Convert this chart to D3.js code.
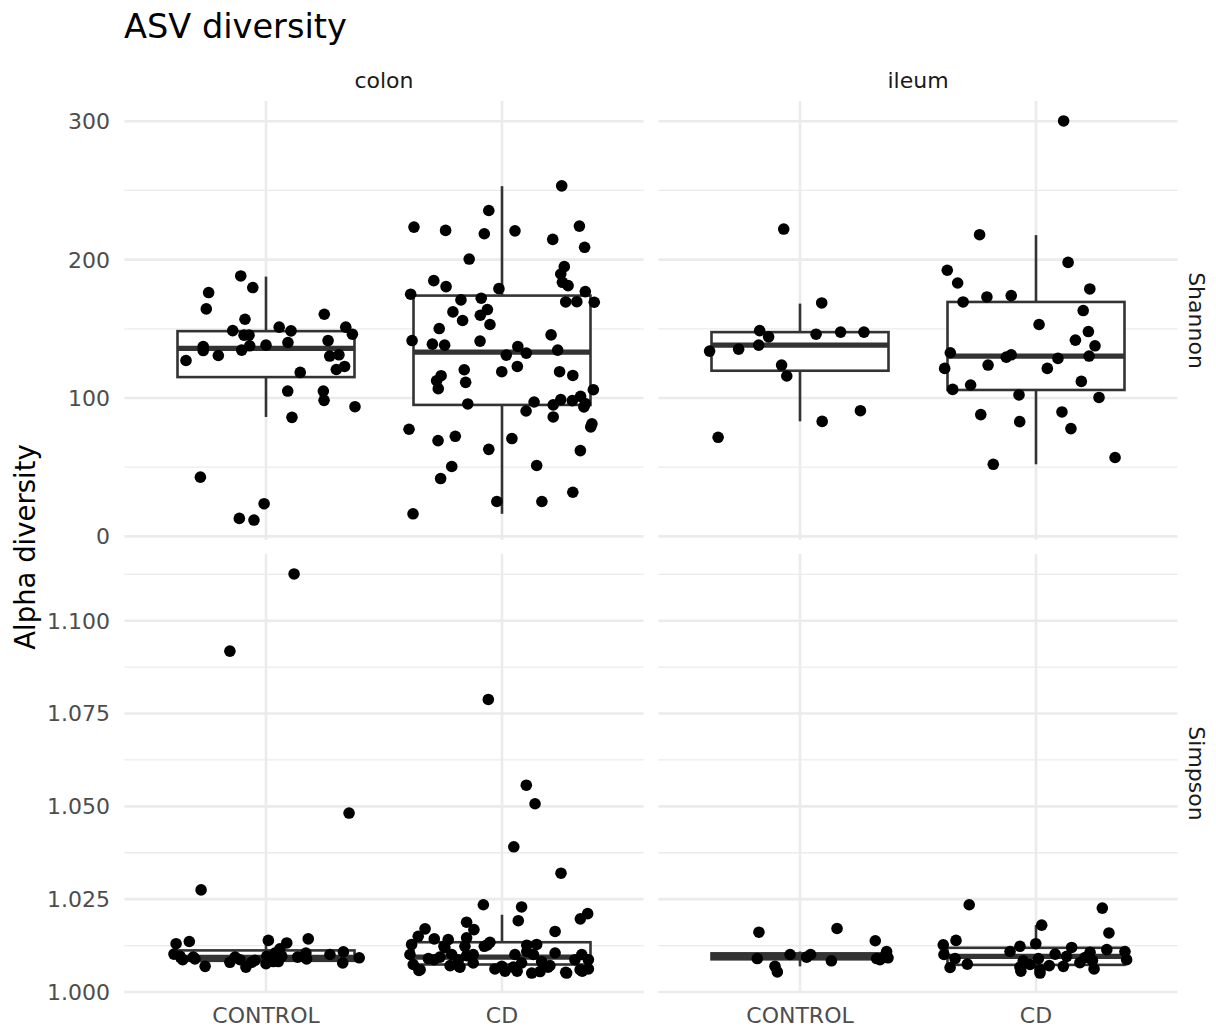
<!DOCTYPE html>
<html>
<head>
<meta charset="utf-8">
<script src="https://cdn.jsdelivr.net/npm/d3@7"></script>
<style>
  body { margin: 0; background: #fff; }
  text { font-family: "DejaVu Sans", sans-serif; }
</style>
</head>
<body>
<script>
// facets, measures and groups
const sites = ["colon", "ileum"];
const measures = ["Shannon", "Simpson"];
const groups = ["CONTROL", "CD"];

// box stats per panel: [lower whisker, Q1, median, Q3, upper whisker]
const boxColonShannon = { CONTROL: [86.3, 115.1, 135.8, 148.3, 187.7], CD: [16.3, 95.0, 133.1, 174.0, 253.1] };
const boxIleumShannon = { CONTROL: [83.1, 119.7, 138.2, 147.6, 168.2], CD: [52.1, 105.8, 130.3, 169.4, 217.7] };
const boxColonSimpson = { CONTROL: [1.0067, 1.0084, 1.0093, 1.0112, 1.0143], CD: [1.0051, 1.0074, 1.0094, 1.0134, 1.0208] };
const boxIleumSimpson = { CONTROL: [1.0069, 1.0088, 1.0096, 1.0104, 1.0109], CD: [1.0051, 1.0073, 1.0096, 1.0119, 1.0180] };

// jittered samples: [jitter (in category steps), value]
const colonShannonControl = [
  [-0.107, 188.2], [-0.056, 179.8], [-0.243, 176.2], [-0.253, 164.4], [-0.089, 156.9], [0.247, 160.5],
  [-0.141, 148.7], [0.056, 151.2], [0.106, 148.5], [0.338, 151.2], [0.366, 146.1], [-0.093, 145.4],
  [-0.072, 145.4], [0.263, 141.5], [0.093, 140.1], [-0.266, 137.2], [-0.266, 134.3], [-0.069, 137.7],
  [0, 138.2], [-0.103, 134.6], [-0.202, 130.7], [-0.339, 127.1], [0.27, 130.3], [0.309, 131.2],
  [0.298, 120.6], [0.333, 122.8], [0.145, 118.5], [0.092, 105.0], [0.243, 105.0], [0.246, 98.3],
  [0.377, 93.7], [0.11, 86.0], [-0.278, 42.8], [-0.008, 23.6], [-0.113, 13.0], [-0.051, 11.8]
];
const colonShannonCD = [
  [0.253, 253.3], [-0.056, 235.5], [-0.373, 223.5], [-0.239, 221.1], [-0.075, 218.7], [0.055, 220.8],
  [0.328, 224.2], [0.215, 214.6], [0.35, 208.9], [-0.139, 200.4], [0.264, 194.9], [0.249, 189.6],
  [0.256, 183.6], [0.28, 181.2], [-0.289, 184.8], [-0.237, 180.5], [-0.013, 179.0], [-0.387, 175.0],
  [0.353, 176.9], [-0.174, 170.9], [-0.088, 172.1], [0.27, 169.4], [0.317, 169.6], [0.391, 169.2],
  [-0.208, 162.2], [-0.062, 163.9], [-0.092, 159.8], [-0.167, 156.0], [-0.051, 153.1], [-0.266, 150.2],
  [-0.381, 141.5], [-0.295, 138.9], [-0.243, 138.2], [-0.093, 141.1], [0.208, 145.6], [0.067, 137.2],
  [0.236, 134.6], [0.018, 131.0], [0.103, 132.4], [0.065, 122.8], [-0.001, 119.0], [0.244, 119.0],
  [0.3, 116.3], [-0.16, 120.4], [-0.154, 111.3], [-0.258, 116.1], [-0.277, 112.5], [-0.27, 106.7],
  [0.387, 106.0], [-0.145, 95.7], [0.136, 97.1], [0.102, 90.6], [0.217, 95.0], [0.249, 98.8],
  [0.298, 98.1], [0.333, 101.2], [0.353, 95.9], [0.347, 93.5], [0.217, 86.3], [-0.394, 77.4],
  [-0.271, 69.2], [-0.198, 72.3], [0.042, 70.7], [0.381, 81.3], [0.376, 79.1], [-0.056, 62.9],
  [0.332, 62.0], [-0.213, 50.5], [-0.26, 41.8], [0.147, 51.2], [0.3, 31.9], [-0.022, 25.2],
  [0.169, 25.2], [-0.377, 16.3]
];
const ileumShannonControl = [
  [-0.069, 222.1], [0.092, 168.7], [-0.171, 148.7], [-0.133, 144.2], [0.068, 146.1], [0.172, 147.6],
  [0.271, 147.6], [-0.175, 138.2], [-0.26, 135.3], [-0.383, 133.9], [-0.078, 123.8], [-0.056, 115.9],
  [0.094, 83.1], [0.256, 90.8], [-0.347, 71.6]
];
const ileumShannonCD = [
  [0.117, 300.2], [-0.239, 218.0], [0.136, 198.0], [-0.376, 192.3], [-0.332, 183.1], [0.228, 178.8],
  [-0.208, 173.0], [-0.105, 174.0], [-0.309, 169.4], [0.2, 163.2], [0.013, 153.1], [0.222, 148.0],
  [0.167, 141.8], [0.25, 137.7], [-0.363, 132.7], [-0.126, 129.5], [-0.105, 131.2], [0.093, 128.6],
  [0.225, 130.3], [-0.203, 123.8], [-0.387, 121.4], [0.048, 121.4], [0.192, 112.0], [-0.277, 109.4],
  [-0.353, 106.2], [-0.072, 102.2], [0.267, 100.4], [-0.234, 88.0], [0.11, 89.9], [-0.069, 82.9],
  [0.148, 77.9], [0.335, 57.0], [-0.181, 52.1]
];
const colonSimpsonControl = [
  [-0.381, 1.0130], [-0.325, 1.0136], [-0.39, 1.0102], [-0.364, 1.0096], [-0.353, 1.0087], [-0.308, 1.0094],
  [-0.301, 1.0089], [-0.258, 1.0069], [-0.153, 1.0080], [-0.131, 1.0094], [-0.11, 1.0087], [-0.085, 1.0067],
  [-0.061, 1.0080], [-0.047, 1.0085], [0, 1.0076], [0.003, 1.0096], [0.01, 1.0139], [0.031, 1.0082],
  [0.038, 1.0105], [0.059, 1.0116], [0.052, 1.0082], [0.088, 1.0132], [0.067, 1.0096], [0.134, 1.0094],
  [0.169, 1.0105], [0.179, 1.0143], [0.172, 1.0089], [0.271, 1.0101], [0.328, 1.0108], [0.325, 1.0078],
  [0.395, 1.0092], [0.119, 1.1126], [-0.153, 1.0918], [0.352, 1.0482], [-0.275, 1.0275]
];
const colonSimpsonCD = [
  [-0.079, 1.0235], [0.083, 1.0229], [0.069, 1.0192], [0.363, 1.0211], [0.332, 1.0197], [-0.15, 1.0188],
  [-0.326, 1.0170], [-0.119, 1.0168], [0.225, 1.0163], [-0.355, 1.0150], [-0.287, 1.0143], [-0.228, 1.0141],
  [-0.15, 1.0146], [-0.051, 1.0134], [-0.075, 1.0123], [-0.383, 1.0128], [-0.242, 1.0119], [-0.157, 1.0123],
  [0.105, 1.0126], [0.147, 1.0128], [-0.39, 1.0101], [-0.312, 1.0090], [-0.263, 1.0094], [-0.213, 1.0101],
  [-0.185, 1.0087], [-0.15, 1.0098], [0.055, 1.0101], [0.105, 1.0109], [0.133, 1.0101], [0.225, 1.0105],
  [0.338, 1.0101], [-0.376, 1.0074], [-0.347, 1.0060], [-0.22, 1.0071], [-0.178, 1.0067], [-0.122, 1.0078],
  [-0.03, 1.0062], [0.013, 1.0056], [0.048, 1.0067], [0.083, 1.0078], [0.126, 1.0051], [0.168, 1.0082],
  [0.203, 1.0071], [0.274, 1.0051], [0.309, 1.0087], [0.366, 1.0087], [0.366, 1.0062], [0.331, 1.0060],
  [-0.001, 1.0069], [-0.122, 1.0101], [-0.058, 1.0788], [0.103, 1.0557], [0.14, 1.0507], [0.05, 1.0391],
  [0.25, 1.0320], [-0.246, 1.0123], [-0.182, 1.0069], [-0.062, 1.0127], [0.064, 1.0056], [0.195, 1.0067],
  [0.27, 1.0053], [0.34, 1.0056], [-0.288, 1.0087], [0.161, 1.0055], [-0.352, 1.0058]
];
const ileumSimpsonControl = [
  [-0.174, 1.0161], [0.157, 1.0171], [0.319, 1.0138], [-0.181, 1.0090], [-0.106, 1.0069], [-0.096, 1.0054],
  [-0.042, 1.0101], [0.028, 1.0094], [0.045, 1.0101], [0.133, 1.0084], [0.367, 1.0109], [0.339, 1.0087],
  [0.36, 1.0096], [0.373, 1.0092], [0.325, 1.0090]
];
const ileumSimpsonCD = [
  [-0.283, 1.0235], [0.281, 1.0226], [0.024, 1.0180], [0.309, 1.0159], [-0.339, 1.0139], [-0.393, 1.0127],
  [-0.39, 1.0101], [-0.343, 1.0090], [-0.364, 1.0066], [-0.291, 1.0075], [-0.11, 1.0109], [-0.068, 1.0123],
  [-0.001, 1.0130], [-0.054, 1.0084], [-0.068, 1.0067], [-0.064, 1.0056], [0.01, 1.0090], [0.017, 1.0060],
  [0.017, 1.0051], [0.056, 1.0071], [0.081, 1.0102], [0.116, 1.0069], [0.13, 1.0096], [0.151, 1.0120],
  [0.208, 1.0093], [0.229, 1.0107], [0.239, 1.0085], [0.246, 1.0062], [0.3, 1.0114], [0.377, 1.0109],
  [0.384, 1.0087], [0.186, 1.0079], [-0.025, 1.0074]
];

// ticks per row
const shannonTicks = [0, 100, 200, 300];
const shannonMinor = [50, 150, 250];
const simpsonTicks = [1.000, 1.025, 1.050, 1.075, 1.100];
const simpsonMinor = [1.0125, 1.0375, 1.0625, 1.0875, 1.1125];

const panels = [
  { site: "colon", measure: "Shannon", box: boxColonShannon, pts: { CONTROL: colonShannonControl, CD: colonShannonCD } },
  { site: "ileum", measure: "Shannon", box: boxIleumShannon, pts: { CONTROL: ileumShannonControl, CD: ileumShannonCD } },
  { site: "colon", measure: "Simpson", box: boxColonSimpson, pts: { CONTROL: colonSimpsonControl, CD: colonSimpsonCD } },
  { site: "ileum", measure: "Simpson", box: boxIleumSimpson, pts: { CONTROL: ileumSimpsonControl, CD: ileumSimpsonCD } }
];
const rowTicks = { Shannon: [shannonTicks, shannonMinor, d3.format("d")], Simpson: [simpsonTicks, simpsonMinor, d3.format(".3f")] };

const width = 1216, height = 1028;
const colX = { colon: [124.4, 643.6], ileum: [658.4, 1177.6] };
const rowY = { Shannon: [540, 101], Simpson: [993, 554] };

const svg = d3.select("body").append("svg")
  .attr("width", width)
  .attr("height", height);

// y scale per row, ggplot-like 5% expansion over all values in the row
const yScales = {};
measures.forEach(m => {
  const vals = [];
  panels.filter(p => p.measure === m).forEach(p => {
    groups.forEach(g => {
      p.pts[g].forEach(d => vals.push(d[1]));
      p.box[g].forEach(v => vals.push(v));
    });
  });
  const [lo, hi] = d3.extent(vals);
  const pad = (hi - lo) * 0.05;
  yScales[m] = d3.scaleLinear().domain([lo - pad, hi + pad]).range(rowY[m]);
});

const xScales = {};
sites.forEach(s => {
  xScales[s] = d3.scalePoint().domain(groups).range(colX[s]).padding(0.6);
});

const grid = "#EBEBEB", ink = "#333333";

panels.forEach(p => {
  const x = xScales[p.site], y = yScales[p.measure];
  const [major, minor] = rowTicks[p.measure];
  const [x0, x1] = x.range();
  const [y0, y1] = y.range();
  const g = svg.append("g").attr("class", "panel");

  g.selectAll(".minor").data(minor).enter().append("line")
    .attr("x1", x0).attr("x2", x1)
    .attr("y1", d => y(d)).attr("y2", d => y(d))
    .attr("stroke", grid).attr("stroke-width", 1.3);
  g.selectAll(".major").data(major).enter().append("line")
    .attr("x1", x0).attr("x2", x1)
    .attr("y1", d => y(d)).attr("y2", d => y(d))
    .attr("stroke", grid).attr("stroke-width", 2.6);
  g.selectAll(".vgrid").data(groups).enter().append("line")
    .attr("x1", d => x(d)).attr("x2", d => x(d))
    .attr("y1", y0).attr("y2", y1)
    .attr("stroke", grid).attr("stroke-width", 2.6);

  const bw = x.step() * 0.75;
  groups.forEach(grp => {
    const [wl, q1, med, q3, wh] = p.box[grp];
    const cx = x(grp);
    const bg = g.append("g").attr("class", "box");
    bg.append("line").attr("x1", cx).attr("x2", cx).attr("y1", y(q3)).attr("y2", y(wh))
      .attr("stroke", ink).attr("stroke-width", 2.6);
    bg.append("line").attr("x1", cx).attr("x2", cx).attr("y1", y(q1)).attr("y2", y(wl))
      .attr("stroke", ink).attr("stroke-width", 2.6);
    bg.append("rect")
      .attr("x", cx - bw / 2).attr("width", bw)
      .attr("y", y(q3)).attr("height", y(q1) - y(q3))
      .attr("fill", "white").attr("stroke", ink).attr("stroke-width", 2.6);
    bg.append("line").attr("x1", cx - bw / 2).attr("x2", cx + bw / 2).attr("y1", y(med)).attr("y2", y(med))
      .attr("stroke", ink).attr("stroke-width", 5.2);
  });

  groups.forEach(grp => {
    g.append("g").selectAll("circle")
      .data(p.pts[grp]).enter().append("circle")
      .attr("cx", d => x(grp) + d[0] * x.step())
      .attr("cy", d => y(d[1]))
      .attr("r", 5.8)
      .attr("fill", "black");
  });
});

// y tick labels (left column only)
measures.forEach(m => {
  const [major, , fmt] = rowTicks[m];
  const y = yScales[m];
  svg.append("g").selectAll("text").data(major).enter().append("text")
    .attr("x", 110).attr("y", d => y(d)).attr("dy", "0.36em")
    .attr("text-anchor", "end")
    .attr("font-size", 22).attr("fill", "#4D4D4D")
    .text(fmt);
});

// x tick labels (bottom row only)
sites.forEach(s => {
  const x = xScales[s];
  svg.append("g").selectAll("text").data(groups).enter().append("text")
    .attr("x", d => x(d)).attr("y", 1023)
    .attr("text-anchor", "middle")
    .attr("font-size", 22).attr("fill", "#4D4D4D")
    .text(d => d);
});

// strips
sites.forEach(s => {
  const [a, b] = colX[s];
  svg.append("text")
    .attr("x", (a + b) / 2).attr("y", 88)
    .attr("text-anchor", "middle")
    .attr("font-size", 22).attr("fill", "#1A1A1A")
    .text(s);
});
measures.forEach(m => {
  const [a, b] = rowY[m];
  svg.append("text")
    .attr("transform", `translate(1197,${(a + b) / 2}) rotate(90)`)
    .attr("text-anchor", "middle").attr("dy", "0.36em")
    .attr("font-size", 22).attr("fill", "#1A1A1A")
    .text(m);
});

// titles
svg.append("text")
  .attr("x", 124).attr("y", 38)
  .attr("font-size", 33.6).attr("fill", "black")
  .text("ASV diversity");

svg.append("text")
  .attr("transform", `translate(35,${(rowY.Shannon[1] + rowY.Simpson[0]) / 2}) rotate(-90)`)
  .attr("text-anchor", "middle")
  .attr("font-size", 27.5).attr("fill", "black")
  .text("Alpha diversity");
</script>
</body>
</html>
